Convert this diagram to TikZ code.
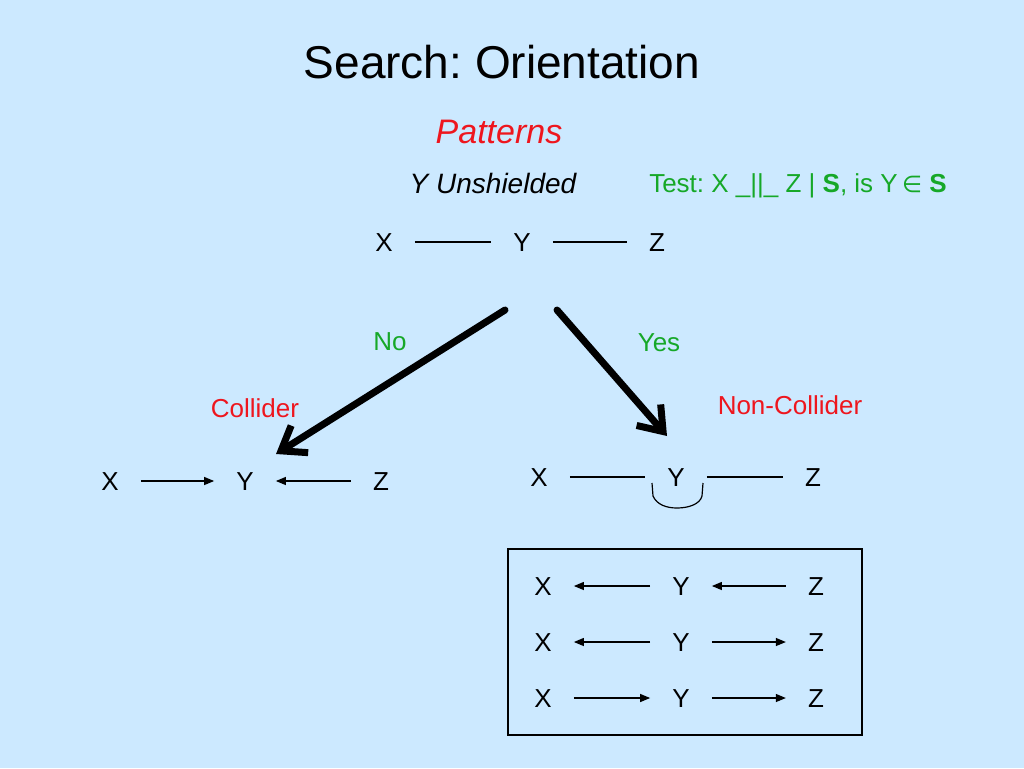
\documentclass[tikz,border=0pt]{standalone}
\usepackage{amsmath}
\usepackage[]{amssymb}
\usepackage{fontspec}
\setmainfont{Liberation Sans}
\newfontfamily\symbfont{DejaVu Sans}
\usetikzlibrary{arrows.meta}
\definecolor{slideblue}{RGB}{204,233,255}
\definecolor{slidered}{RGB}{238,22,30}
\definecolor{slidegreen}{RGB}{22,168,40}
\frenchspacing

\begin{document}
\begin{tikzpicture}[x=1pt, y=-1pt,
    var/.style={font=\fontsize{26}{30}\selectfont, inner xsep=22pt, inner ysep=0pt,
        text height=18.6pt, text depth=0pt},
    lbl/.style={font=\fontsize{26}{30}\selectfont, inner sep=0pt, anchor=base},
    edge/.style={line width=1.2pt},
    dir/.style={line width=1.2pt, -{Triangle[length=10pt,width=8pt]}},
    big/.style={line width=7pt, line cap=round, -{Straight Barb[length=22pt,width=32pt]}}]
    \useasboundingbox (0,0) rectangle (1024,768);
    \fill[slideblue] (0,0) rectangle (1024,768);

    % titles
    \node[lbl, font=\fontsize{46}{50}\selectfont] (title) at (502,78) {Search: Orientation};
    \node[lbl, font=\fontsize{34}{38}\selectfont\itshape, text=slidered] (patterns) at (499,143) {Patterns};
    \node[lbl, font=\fontsize{28}{32}\selectfont\itshape] (unsh) at (493,193) {Y Unshielded};
    \node[lbl, text=slidegreen] (test) at (798,192)
        {Test: X \_||\_ Z | \textbf{S}, is Y\,{\symbfont\fontsize{23}{26}\selectfont ∈} \textbf{S}};

    % unshielded triple
    \node[var] (tx) at (384,242) {X};
    \node[var] (ty) at (522,242) {Y};
    \node[var] (tz) at (657,242) {Z};
    \draw[edge] (tx) -- (ty);
    \draw[edge] (ty) -- (tz);

    % the two branches
    \coordinate (noStart) at (505,310);
    \coordinate (noEnd) at (276,454);
    \coordinate (yesStart) at (557,310);
    \coordinate (yesEnd) at (667,436);
    \draw[big] (noStart) -- (noEnd);
    \draw[big] (yesStart) -- (yesEnd);
    \node[lbl, text=slidegreen] (no) at (390,350) {No};
    \node[lbl, text=slidegreen] (yes) at (659,351) {Yes};
    \node[lbl, text=slidered] (coll) at (255,417) {Collider};
    \node[lbl, text=slidered] (ncoll) at (790,414) {Non-Collider};

    % collider
    \node[var] (cx) at (110,481) {X};
    \node[var] (cy) at (245,481) {Y};
    \node[var] (cz) at (381,481) {Z};
    \draw[dir] (cx) -- (cy);
    \draw[dir] (cz) -- (cy);

    % non-collider
    \node[var] (nx) at (539,477) {X};
    \node[var] (ny) at (676,477) {Y};
    \node[var] (nz) at (813,477) {Z};
    \draw[edge] (nx) -- (ny);
    \draw[edge] (ny) -- (nz);
    \draw[edge] (652,483) -- (653,496) .. controls (657,505) and (667,508) .. (677,508)
        .. controls (689,508) and (700,504) .. (702,496) -- (703,483);

    % orientations consistent with a non-collider
    \draw[line width=1.3pt] (508,549) rectangle (862,735);
    \foreach \i/\yy in {1/586, 2/642, 3/698} {
        \node[var] (bx\i) at (543,\yy) {X};
        \node[var] (by\i) at (681,\yy) {Y};
        \node[var] (bz\i) at (816,\yy) {Z};
    }
    \draw[dir] (by1) -- (bx1);
    \draw[dir] (bz1) -- (by1);
    \draw[dir] (by2) -- (bx2);
    \draw[dir] (by2) -- (bz2);
    \draw[dir] (bx3) -- (by3);
    \draw[dir] (by3) -- (bz3);
\end{tikzpicture}
\end{document}
